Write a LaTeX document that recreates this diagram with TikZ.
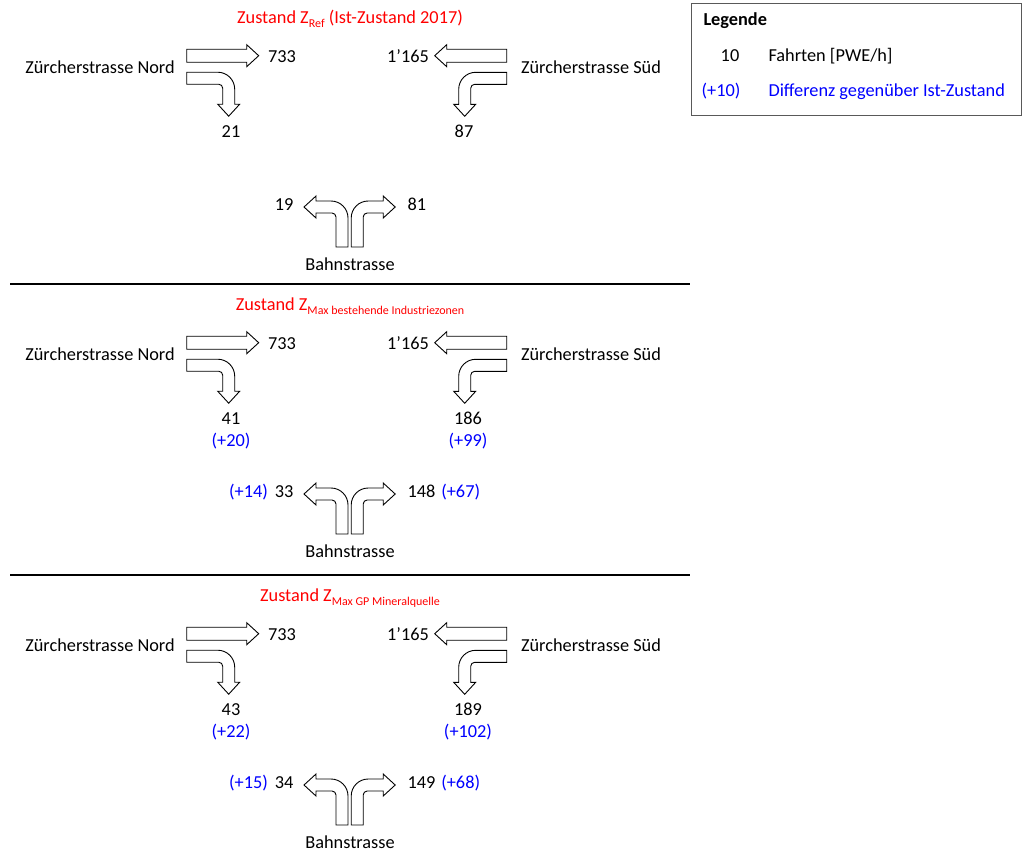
\documentclass[tikz,border=0pt]{standalone}
\usepackage{fontspec}
\setmainfont{Carlito}
\usetikzlibrary{positioning}
\definecolor{cred}{HTML}{FF0000}
\definecolor{cblue}{HTML}{0000FF}
\definecolor{cframe}{HTML}{595959}
\newcommand\lblfont{\fontsize{18.3}{21}\selectfont}
\newcommand\idx[1]{\raisebox{-4pt}{\fontsize{12}{13}\selectfont #1}}
\tikzset{
  every picture/.style={x=1pt, y=-1pt, line width=1pt},
  lbl/.style={inner sep=0pt, text height=11.8pt, text depth=0pt, font=\lblfont},
  diff/.style={lbl, text=cblue},
  title/.style={lbl, text=cred},
  flow/.style={draw=black, fill=white, line width=0.9pt, line join=miter},
  sep/.style={draw=black, line width=1.8pt},
  legbox/.style={draw=cframe, line width=1.3pt, anchor=north west, minimum width=330, minimum height=112, inner sep=0pt},
  % block arrow, pointing right
  pics/straightarrow/.style={code={
    \draw[flow] (0,-6.5) -- (60,-6.5) -- (60,-11) -- (72,0) -- (60,11) -- (60,6.5) -- (0,6.5) -- cycle;
  }},
  % block arrow: #1 to the right, then bends down to the tip
  pics/turnarrow/.style={code={
    \draw[flow] (0,-6) -- (#1-11,-6) .. controls (#1-1.6,-6) and (#1+6,1.6) .. (#1+6,11)
      -- (#1+6,26) -- (#1+11,26) -- (#1,38) -- (#1-11,26) -- (#1-6,26) -- (#1-6,10)
      .. controls (#1-6,7.8) and (#1-7.8,6) .. (#1-10,6) -- (0,6) -- cycle;
  }},
  pics/turnarrow/.default=42,
}
\begin{document}
\begin{tikzpicture}
  \useasboundingbox (0,0) rectangle (1023,854);
  % one block per scenario, shifted down by \dy
  \foreach \dy/\ttl/\nl/\ns/\sx/\bl/\br [count=\i] in {
      0/{Zustand Z\idx{Ref} (Ist-Zustand 2017)}/21/87/464/19/81,
      287/{Zustand Z\idx{Max bestehende Industriezonen}}/41/186/468/33/148,
      578/{Zustand Z\idx{Max GP Mineralquelle}}/43/189/468/34/149} {
    \node[title] (ttl\i) at (350, 18+\dy) {\ttl};
    \node[lbl] (nord\i) at (100, 68+\dy) {Zürcherstrasse Nord};
    \node[lbl] (sued\i) at (591, 68+\dy) {Zürcherstrasse Süd};
    \node[lbl] (bahn\i) at (350, 265+\dy) {Bahnstrasse};
    \pic at (186.7, 55.7+\dy) {straightarrow};
    \pic at (186.7, 78.2+\dy) {turnarrow};
    \pic[xscale=-1] at (506.7, 55.7+\dy) {straightarrow};
    \pic[xscale=-1] at (506.7, 78.3+\dy) {turnarrow};
    \pic[xscale=-1, rotate=90] at (342, 247+\dy) {turnarrow=40};
    \pic[rotate=90] at (357.2, 247+\dy) {turnarrow=40};
    \node[lbl] (ng\i) at (282, 57+\dy) {733};
    \node[lbl] (nr\i) at (231, 132+\dy) {\nl};
    \node[lbl] (sg\i) at (408, 57+\dy) {1’165};
    \node[lbl] (sl\i) at (\sx, 132+\dy) {\ns};
    \node[lbl, anchor=east] (bl\i) at (294, 205+\dy) {\bl};
    \node[lbl, anchor=west] (br\i) at (407, 205+\dy) {\br};
  }
  % differences to the reference state
  \foreach \dy/\dn/\ds/\dl/\dr [count=\i from 2] in {287/+20/+99/+14/+67, 578/+22/+102/+15/+68} {
    \node[diff] (dn\i) at (231, 154+\dy) {(\dn)};
    \node[diff] (ds\i) at (468, 154+\dy) {(\ds)};
    \node[diff, left=6pt of bl\i] (dl\i) {(\dl)};
    \node[diff, right=5pt of br\i] (dr\i) {(\dr)};
  }
  \foreach \y [count=\i] in {284, 575} {
    \coordinate (sa\i) at (10, \y);
    \coordinate (sb\i) at (690, \y);
    \draw[sep] (sa\i) -- (sb\i);
  }
  % legend
  \node[legbox] (legend) at (691, 3) {};
  \node[lbl, font=\lblfont\bfseries, anchor=west] (legtitle) at (703, 20) {Legende};
  \node[lbl] (legnum) at (730, 56) {10};
  \node[lbl, anchor=west] (legnumtxt) at (768, 56) {Fahrten [PWE/h]};
  \node[diff] (legdiff) at (721, 91) {(+10)};
  \node[diff, anchor=west] (legdifftxt) at (768, 91) {Differenz gegenüber Ist-Zustand};
\end{tikzpicture}
\end{document}
